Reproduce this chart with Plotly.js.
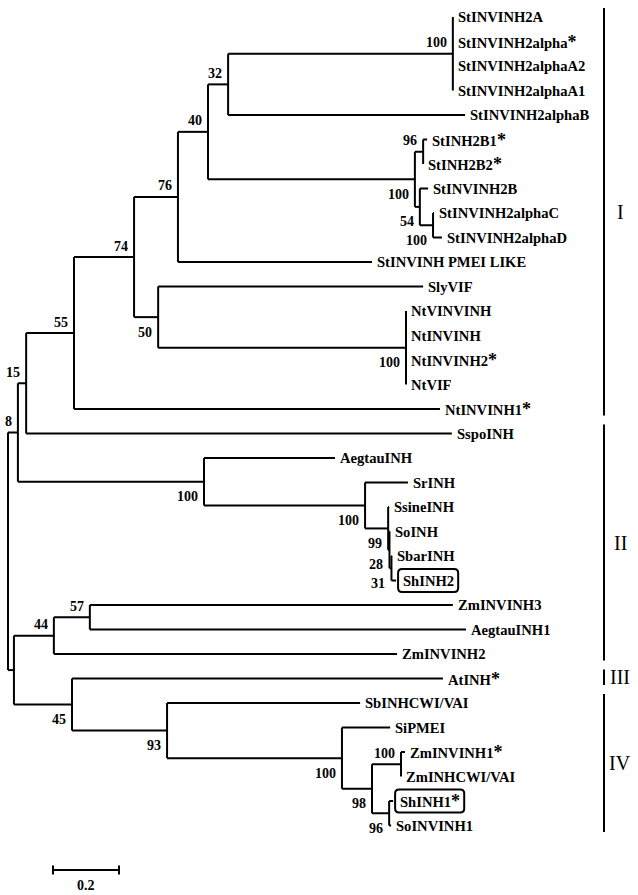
<!DOCTYPE html>
<html><head><meta charset="utf-8">
<script src="https://cdn.plot.ly/plotly-3.0.1.min.js"></script>
<style>html,body{margin:0;padding:0;background:#fff}</style>
</head><body><div id="chart" style="width:638px;height:895px"></div>
<script>
// ---- tree data: leaves (top-to-bottom order) ----
const leafNames = ['StINVINH2A','StINVINH2alpha*','StINVINH2alphaA2','StINVINH2alphaA1','StINVINH2alphaB',
  'StINH2B1*','StINH2B2*','StINVINH2B','StINVINH2alphaC','StINVINH2alphaD','StINVINH PMEI LIKE','SlyVIF',
  'NtVINVINH','NtINVINH','NtINVINH2*','NtVIF','NtINVINH1*','SspoINH','AegtauINH','SrINH','SsineINH','SoINH',
  'SbarINH','ShINH2','ZmINVINH3','AegtauINH1','ZmINVINH2','AtINH*','SbINHCWI/VAI','SiPMEI','ZmINVINH1*',
  'ZmINHCWI/VAI','ShINH1*','SoINVINH1'];
const leafParents = ['nA','nA','nA','nA','n32','nB96','nB96','nB54','nBCD','nBCD','n76','n50',
  'nNt','nNt','nNt','nNt','n55','n15','nAeg','nSr','n99','n28','n31','n31','n57','n57','n44','n45','n93','nSi',
  'nZm','nZm','n96','n96'];
// distance from root (substitutions per site)
const leafDepths = [1.348,1.348,1.348,1.348,1.385,1.270,1.258,1.273,1.291,1.315,1.103,1.258,
  1.206,1.206,1.206,1.206,1.309,1.345,0.991,1.212,1.155,1.158,1.164,1.176,1.348,1.388,1.179,1.318,1.067,1.158,
  1.203,1.191,1.167,1.161];
const boxedLeaves = ['ShINH2','ShINH1*'];

// ---- internal nodes ----
const nodeIds     = ['root','n8','n15','n55','n74','n76','n40','n32','nA','nB100','nB96','nB54','nBCD','n50','nNt',
  'nAeg','nSr','n99','n28','n31','nR2','n44','n57','n45','n93','nSi','n98','nZm','n96'];
const nodeParents = [null,'root','n8','n15','n55','n74','n76','n40','n32','n40','nB100','nB100','nB54','n74','n50',
  'n8','nAeg','nSr','n99','n28','root','nR2','n44','nR2','n45','n93','nSi','n98','n98'];
const nodeDepths  = [0,0.030,0.055,0.200,0.382,0.515,0.606,0.667,1.348,1.233,1.258,1.248,1.288,0.455,1.206,
  0.594,1.082,1.152,1.156,1.162,0.018,0.139,0.248,0.194,0.482,1.012,1.103,1.191,1.155];
const nodeSupport = ['','8','15','55','74','76','40','32','100','100','96','54','100','50','100',
  '100','100','99','28','31','','44','57','45','93','100','98','100','96'];
// label placement style (true = above the branch)
const supportAbove = [true,true,true,true,true,true,true,true,true,false,true,false,false,false,false,
  false,false,false,false,false,true,true,true,false,false,false,false,true,false];

// ---- clades ----
const cladeNames = ['I','II','III','IV'];
const cladeFirst = [0,17,27,28];
const cladeLast  = [16,26,27,33];
const scaleLength = 0.2;

// ---- layout constants ----
const W = 638, H = 895, PX = 330, X0 = 8, Y0 = 17, ROW = 24.5;
const FONT = '"Liberation Serif", "Times New Roman", serif';
const LBL = 14.6, STAR = 18;

const ctx = document.createElement('canvas').getContext('2d');
function textWidth(name) {
  const base = name.replace('*', '');
  ctx.font = 'bold ' + LBL + 'px "Liberation Serif"';
  let w = ctx.measureText(base).width;
  if (name.includes('*')) { ctx.font = 'bold ' + STAR + 'px "Liberation Serif"'; w += ctx.measureText('*').width; }
  return w;
}
function fmt(name) {
  return name.replace('*', '<span style="font-size:' + STAR + 'px">*</span>');
}

// compute y of nodes
const children = {};
nodeIds.forEach(id => children[id] = []);
nodeIds.forEach((id, i) => { if (nodeParents[i]) children[nodeParents[i]].push({type:'n', id}); });
leafNames.forEach((n, i) => children[leafParents[i]].push({type:'l', i}));
const nodeY = {};
function yOf(c) { return c.type === 'l' ? c.i : nodeYcalc(c.id); }
function nodeYcalc(id) {
  if (nodeY[id] !== undefined) return nodeY[id];
  const ys = children[id].map(yOf);
  nodeY[id] = (Math.min(...ys) + Math.max(...ys)) / 2;
  return nodeY[id];
}
nodeIds.forEach(nodeYcalc);
const depthOf = {};
nodeIds.forEach((id, i) => depthOf[id] = nodeDepths[i]);

const tx = [], ty = [];
nodeIds.forEach((id, i) => {
  const ys = children[id].map(yOf);
  tx.push(nodeDepths[i], nodeDepths[i], null); ty.push(Math.min(...ys), Math.max(...ys), null);
  if (nodeParents[i]) { tx.push(depthOf[nodeParents[i]], nodeDepths[i], null); ty.push(nodeY[id], nodeY[id], null); }
});
leafNames.forEach((n, i) => {
  const pd = depthOf[leafParents[i]];
  if (leafDepths[i] > pd) { tx.push(pd, leafDepths[i], null); ty.push(i, i, null); }
});

const annotations = [], shapes = [];
leafNames.forEach((n, i) => {
  const boxed = boxedLeaves.includes(n);
  const shift = boxed ? 5 : 3;
  annotations.push({x: leafDepths[i], y: i, xref:'x', yref:'y', text: fmt(n), showarrow:false,
    xanchor:'left', yanchor:'middle', xshift: shift, yshift: 0,
    font:{family:FONT, size:LBL, color:'#000', weight:'bold'}});
  if (boxed) {
    const x0 = 2, x1 = shift + 1 + textWidth(n) + 5, h = 11.5, r = 4;
    const p = 'M' + (x0 + r) + ',' + (-h) + ' L' + (x1 - r) + ',' + (-h) + ' Q' + x1 + ',' + (-h) + ' ' + x1 + ',' + (-h + r) +
      ' L' + x1 + ',' + (h - r) + ' Q' + x1 + ',' + h + ' ' + (x1 - r) + ',' + h +
      ' L' + (x0 + r) + ',' + h + ' Q' + x0 + ',' + h + ' ' + x0 + ',' + (h - r) +
      ' L' + x0 + ',' + (-h + r) + ' Q' + x0 + ',' + (-h) + ' ' + (x0 + r) + ',' + (-h) + ' Z';
    shapes.push({type:'path', xref:'x', yref:'y', xsizemode:'pixel', ysizemode:'pixel',
      xanchor: leafDepths[i], yanchor: i, path: p, line:{color:'#000', width:2}, fillcolor:'rgba(0,0,0,0)'});
  }
});
nodeIds.forEach((id, i) => {
  if (!nodeSupport[i]) return;
  annotations.push({x: nodeDepths[i], y: nodeY[id], xref:'x', yref:'y', text: nodeSupport[i], showarrow:false,
    xanchor:'right', yanchor:'middle', xshift:-4, yshift: supportAbove[i] ? 11 : -15,
    font:{family:FONT, size:14, color:'#000', weight:'bold'}});
});

// clade bars
const barX = (604 - X0) / PX;
const cx = [], cy = [];
cladeNames.forEach((c, k) => {
  const a = cladeFirst[k] - 0.37, b = cladeLast[k] + 0.27;
  cx.push(barX, barX, null); cy.push(a, b, null);
  annotations.push({x: barX, y: (a + b) / 2, xref:'x', yref:'y', text: c, showarrow:false,
    xanchor:'center', yanchor:'middle', xshift: 16,
    font:{family:FONT, size:20, color:'#000'}});
});

// scale bar
const sbY = (870 - Y0) / ROW, sbX = (53 - X0) / PX, tk = 4.5 / ROW;
const sx = [sbX, sbX + scaleLength, null, sbX, sbX, null, sbX + scaleLength, sbX + scaleLength];
const sy = [sbY, sbY, null, sbY - tk, sbY + tk, null, sbY - tk, sbY + tk];
annotations.push({x: sbX + scaleLength / 2, y: sbY, xref:'x', yref:'y', text: String(scaleLength), showarrow:false,
  xanchor:'center', yanchor:'middle', yshift:-15, font:{family:FONT, size:14, color:'#000', weight:'bold'}});

const traces = [
  {x: tx, y: ty, mode:'lines', line:{color:'#000', width:2}, hoverinfo:'skip'},
  {x: cx, y: cy, mode:'lines', line:{color:'#000', width:2}, hoverinfo:'skip'},
  {x: sx, y: sy, mode:'lines', line:{color:'#000', width:2}, hoverinfo:'skip'}
];
const layout = {
  width: W, height: H, margin:{l:0, r:0, t:0, b:0},
  paper_bgcolor:'#fff', plot_bgcolor:'#fff', showlegend:false, hovermode:false,
  xaxis:{range:[-X0 / PX, (W - X0) / PX], visible:false, fixedrange:true},
  yaxis:{range:[(H - Y0) / ROW, -Y0 / ROW], visible:false, fixedrange:true},
  annotations, shapes
};
Plotly.newPlot('chart', traces, layout, {staticPlot:true, displayModeBar:false});
</script></body></html>
